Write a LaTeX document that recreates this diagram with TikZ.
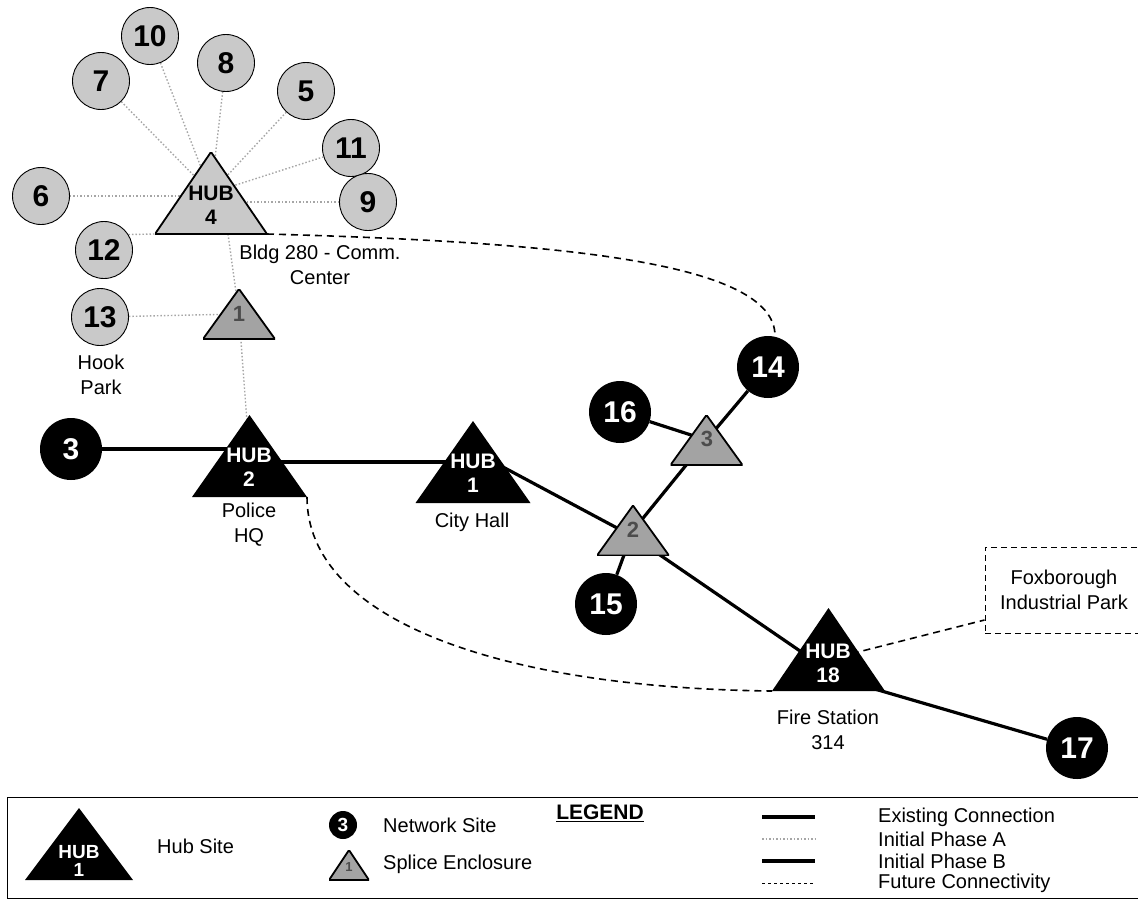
\documentclass[tikz,border=0pt]{standalone}
\usepackage{fontspec}
\setmainfont{Liberation Sans}
\usetikzlibrary{backgrounds}
\tikzset{
  lab/.style={font=\fontsize{20}{25}\selectfont, align=center, inner sep=0},
  blk/.style={circle, fill=black, text=white, minimum size=62, inner sep=0, font=\fontsize{30}{30}\selectfont\bfseries},
  gry/.style={circle, fill=gray!42, draw=black, line width=0.9pt, minimum size=57, inner sep=0, font=\fontsize{30}{30}\selectfont\bfseries},
  tribase/.style={rectangle, inner sep=0, outer sep=0},
  hubtri/.style={tribase, minimum width=115, minimum height=82,
    path picture={\fill[black] (path picture bounding box.south west) -- (path picture bounding box.south east) -- (path picture bounding box.north) -- cycle;}},
  graytri/.style={tribase, minimum width=112, minimum height=82,
    path picture={\filldraw[fill=gray!42, draw=black, line width=1.8pt] (path picture bounding box.south west) -- (path picture bounding box.south east) -- (path picture bounding box.north) -- cycle;}},
  splicetri/.style={tribase, minimum width=72, minimum height=50,
    path picture={\filldraw[fill=gray!72, draw=black, line width=1.8pt] (path picture bounding box.south west) -- (path picture bounding box.south east) -- (path picture bounding box.north) -- cycle;}},
  hubtxt/.style={font=\fontsize{21}{24}\selectfont\bfseries, text=white, align=center, inner sep=0},
  spltxt/.style={font=\fontsize{22}{22}\selectfont\bfseries, text=black!70, inner sep=0},
  exist/.style={line width=3.2pt, black},
  phaseA/.style={draw=gray!70, line width=1.4pt, dash pattern=on 1.5pt off 2pt},
  future/.style={line width=1.6pt, black, dash pattern=on 7pt off 5pt},
}
\begin{document}
\begin{tikzpicture}[x=1pt,y=-1pt]
\useasboundingbox (0,0) rectangle (1138,903);

% ---- gray network sites (Phase A cluster)
\node[gry] (c10) at (150,36) {10};
\node[gry] (c7) at (101,81) {7};
\node[gry] (c8) at (226,63) {8};
\node[gry] (c5) at (306,91) {5};
\node[gry] (c11) at (351,148) {11};
\node[gry] (c9) at (368,202) {9};
\node[gry] (c6) at (41,196) {6};
\node[gry] (c12) at (104,250) {12};
\node[gry] (c13) at (100,317) {13};

% ---- black network sites
\node[blk] (c3) at (71,449) {3};
\node[blk] (c14) at (768,367) {14};
\node[blk] (c16) at (620,412) {16};
\node[blk] (c15) at (606,604) {15};
\node[blk] (c17) at (1077,748) {17};

% ---- hubs
\node[graytri] (hub4) at (211,193) {};
\node[hubtxt, text=black] (hub4t) at (211,205) {HUB\\4};
\node[hubtri] (hub2) at (249.5,456) {};
\node[hubtxt] (hub2t) at (249,467.5) {HUB\\2};
\node[hubtri] (hub1) at (473,462) {};
\node[hubtxt] (hub1t) at (473,473.5) {HUB\\1};
\node[hubtri, minimum width=113, minimum height=83] (hub18) at (828.5,649.5) {};
\node[hubtxt] (hub18t) at (828,663.5) {HUB\\18};

% ---- splice enclosures
\node[splicetri] (sp1) at (239,314) {};
\node[spltxt] (sp1t) at (239,314) {1};
\node[splicetri] (sp2) at (633,530.5) {};
\node[spltxt] (sp2t) at (633,530) {2};
\node[splicetri] (sp3) at (706.5,440) {};
\node[spltxt] (sp3t) at (707,439) {3};

% ---- labels
\node[lab] (bldg) at (320,264.5) {Bldg 280 - Comm.\\Center};
\node[lab] (hook) at (101,375) {Hook\\Park};
\node[lab] (police) at (249,524.5) {Police\\HQ};
\node[lab] (cityhall) at (472,522) {City Hall};
\node[lab] (fire) at (828,730) {Fire Station\\314};
\node[lab, draw, line width=1pt, dash pattern=on 6pt off 4pt, minimum width=158, minimum height=86] (fox) at (1064,590) {Foxborough\\Industrial Park};

% ---- connectors
\begin{scope}[on background layer]
  % Initial Phase A
  \draw[phaseA] (c10) -- (hub4.center);
  \draw[phaseA] (c7) -- (hub4.center);
  \draw[phaseA] (c8) -- (hub4.center);
  \draw[phaseA] (c5) -- (hub4.center);
  \draw[phaseA] (c11) -- (hub4.center);
  \draw[phaseA] (c9) -- (c9 -| hub4.center);
  \draw[phaseA] (c6) -- (c6 -| hub4.center);
  \draw[phaseA] ([yshift=15]c12.center) -- (hub4.south west);
  \draw[phaseA] (c13) -- (sp1.center);
  \draw[phaseA] ([xshift=17]hub4.south) -- (sp1.center);
  \draw[phaseA] (sp1.center) -- (hub2.center);
  % Existing / Phase B
  \draw[exist] (c3) -- (c3 -| hub2.center);
  \draw[exist] ([yshift=-6]hub2.center) -- (hub1.center);
  \draw[exist] ([yshift=11]hub1.center) -- ([yshift=-6]sp2.center);
  \draw[exist] ([yshift=-6]sp2.center) -- ([yshift=-21]hub18.center);
  \draw[exist] ([yshift=-26]hub18.center) -- (c17);
  \draw[exist] (sp2.center) -- (sp3.center);
  \draw[exist] (sp3.center) -- (c14);
  \draw[exist] (c16) -- (sp3.center);
  \draw[exist] (c15) -- (sp2.center);
  % Future
  \draw[future] (hub4.south east) .. controls (560,242) and (775,262) .. ([xshift=7]c14.north);
  \draw[future] (hub2.south east) .. controls (307,620) and (500,688) .. (hub18.south west);
  \draw[future] ([yshift=-10]hub18.center) -- ([yshift=-30]fox.west);
\end{scope}

% ---- legend
\draw[line width=1pt] (7,797) rectangle (1145,898);
\node[hubtri, minimum width=108, minimum height=72] (lhub) at (79,844) {};
\node[hubtxt, font=\fontsize{19}{18}\selectfont\bfseries] (lhubt) at (79,861) {HUB\\1};
\node[lab, anchor=west] (lhubs) at (157,846) {Hub Site};
\node[blk, minimum size=28, font=\fontsize{19}{19}\selectfont\bfseries] (lnet) at (343,825) {3};
\node[lab, anchor=west] (lnett) at (383,825) {Network Site};
\node[splicetri, minimum width=40, minimum height=30] (lspl) at (349,865) {};
\node[spltxt, font=\fontsize{13}{13}\selectfont\bfseries] (lsplt) at (349,867) {1};
\node[lab, anchor=west] (lsplx) at (383,864) {Splice Enclosure};
\node[lab, font=\fontsize{21}{25}\selectfont\bfseries] (legtitle) at (600,813) {\underline{LEGEND}};
\coordinate (la1) at (762,817); \coordinate (la2) at (815,817);
\coordinate (lb1) at (762,839); \coordinate (lb2) at (815,839);
\coordinate (lc1) at (762,861); \coordinate (lc2) at (815,861);
\coordinate (ld1) at (762,883); \coordinate (ld2) at (815,883);
\draw[exist] (la1) -- (la2);
\draw[phaseA] (lb1) -- (lb2);
\draw[exist] (lc1) -- (lc2);
\draw[line width=1pt, dash pattern=on 3pt off 3pt] (ld1) -- (ld2);
\node[lab, anchor=west] (lt1) at (878,817) {Existing Connection};
\node[lab, anchor=west] (lt2) at (878,839) {Initial Phase A};
\node[lab, anchor=west] (lt3) at (878,861) {Initial Phase B};
\node[lab, anchor=west] (lt4) at (878,883) {Future Connectivity};
\end{tikzpicture}
\end{document}
